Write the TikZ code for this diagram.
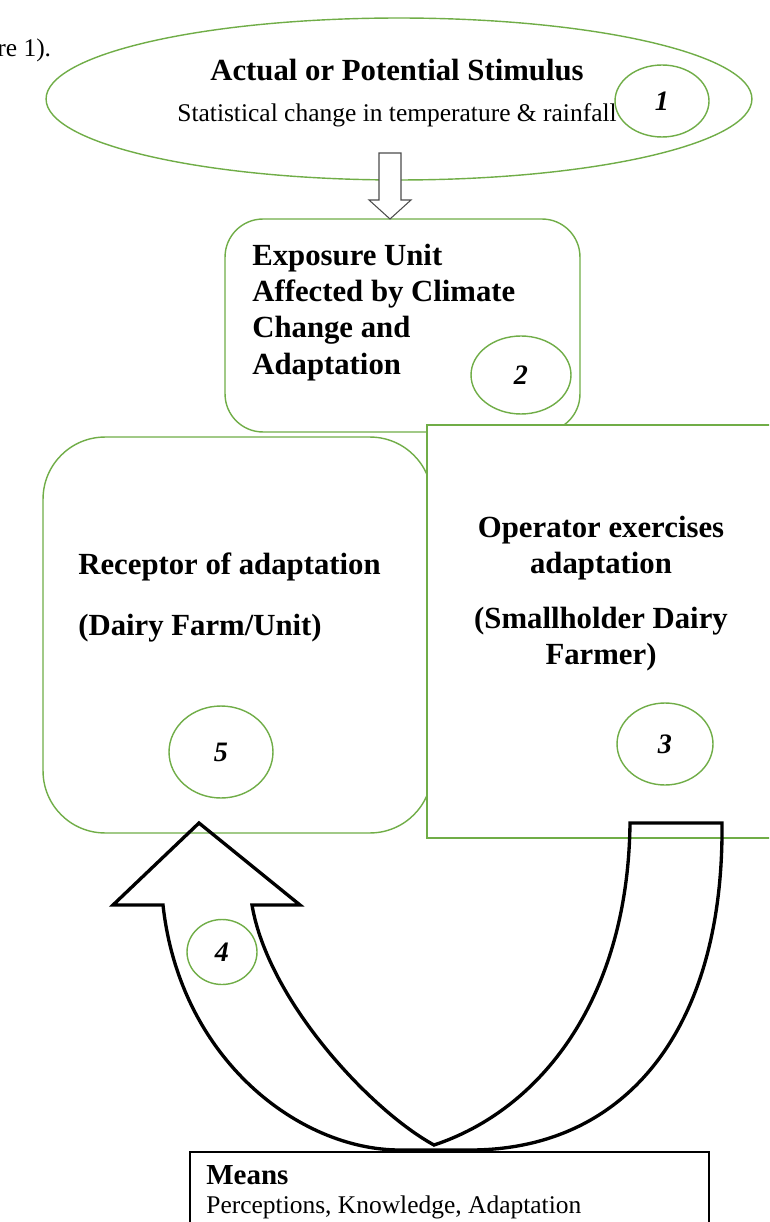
\documentclass[tikz,border=0pt]{standalone}
\usepackage{fontspec}
\setmainfont{Liberation Serif}
\usetikzlibrary{shapes.geometric,positioning}
\definecolor{stagegreen}{RGB}{112,173,71}

\begin{document}
\begin{tikzpicture}[x=0.02cm,y=-0.02cm,
    stage/.style={draw=stagegreen, line width=0.8pt, fill=white, inner sep=0pt},
    numring/.style={draw=stagegreen, line width=0.8pt, fill=white, ellipse, inner sep=0pt,
        font=\fontsize{16}{18}\selectfont\bfseries\itshape},
    heavytext/.style={inner sep=0pt, font=\fontsize{17.5}{20.6}\selectfont\bfseries},
    plaintext/.style={inner sep=0pt, font=\fontsize{14.5}{16}\selectfont},
    hollowarrow/.style={draw=black!70, line width=0.6pt, fill=white},
    bendarrow/.style={draw=black, line width=1.9pt, line join=miter}]
            \useasboundingbox (0,0) rectangle (769,1222);
            \clip (0,0) rectangle (769,1222);
            \node [plaintext, anchor=west] (figref) at (-3,50) {re 1).};
            \node [stage, ellipse, minimum width=14.12cm, minimum height=3.24cm] (stimulus) at (399,99) {};
            \node [heavytext] (stimtitle) at (397,70) {Actual or Potential Stimulus};
            \node [plaintext] (stimtext) at (397,115) {Statistical change in temperature \& rainfall};
            \node [numring, minimum width=1.88cm, minimum height=1.44cm] (n1) at (662,101) {1};
            \node [stage, rounded corners=0.76cm, minimum width=7.1cm, minimum height=4.26cm] (exposure) at (402.5,325.5) {};
            \coordinate (droptip) at (390,219);
            \draw [hollowarrow] (droptip) -- ++(-21,-19) -- ++(10,0) -- ++(0,-47) -- ++(22,0) -- ++(0,47) -- ++(10,0) -- cycle;
            \node [heavytext, anchor=west, align=left] (exptext) at (252,312.5) {Exposure Unit\\Affected by Climate\\Change and\\Adaptation};
            \node [numring, minimum width=2cm, minimum height=1.56cm] (n2) at (521,375) {2};
            \node [stage, rounded corners=1.24cm, minimum width=7.78cm, minimum height=7.92cm] (receptor) at (237.5,635) {};
            \node [stage, minimum width=7.46cm, minimum height=8.26cm] (operator) at (613.5,631.5) {};
            \node [heavytext, anchor=west] (rectitle) at (78,567) {Receptor of adaptation};
            \node [heavytext, anchor=west] (recunit) at (78,628) {(Dairy Farm/Unit)};
            \node [numring, minimum width=2.08cm, minimum height=1.84cm] (n5) at (221,752) {5};
            \node [heavytext, align=center] (optext) at (601,593.5) {Operator exercises\\adaptation\\[0.38cm](Smallholder Dairy\\Farmer)};
            \node [numring, minimum width=1.92cm, minimum height=1.64cm] (n3) at (665,744) {3};
            \node [draw=black, line width=1pt, inner sep=0pt, minimum width=10.38cm, minimum height=1.96cm] (means) at (449.5,1201) {};
            \node [inner sep=0pt, font=\fontsize{16.5}{18}\selectfont\bfseries, anchor=west] (meanstitle) at (206,1175) {Means};
            \node [plaintext, anchor=west] (meanstext) at (206,1207) {Perceptions, Knowledge, Adaptation};
            \node [numring, fill=none, minimum width=1.4cm, minimum height=1.3cm] (n4) at (222,952) {4};
            \draw [bendarrow] (199,823) -- (300,905) -- (252,905)
                .. controls (268,1000) and (370,1110) .. (434,1145)
                .. controls (540,1110) and (628,1000) .. (630,823)
                -- (722,823)
                .. controls (724,1030) and (625,1150) .. (470,1150)
                -- (400,1150)
                .. controls (300,1150) and (180,1060) .. (163,905)
                -- (113,905) -- cycle;
        \end{tikzpicture}
\end{document}
